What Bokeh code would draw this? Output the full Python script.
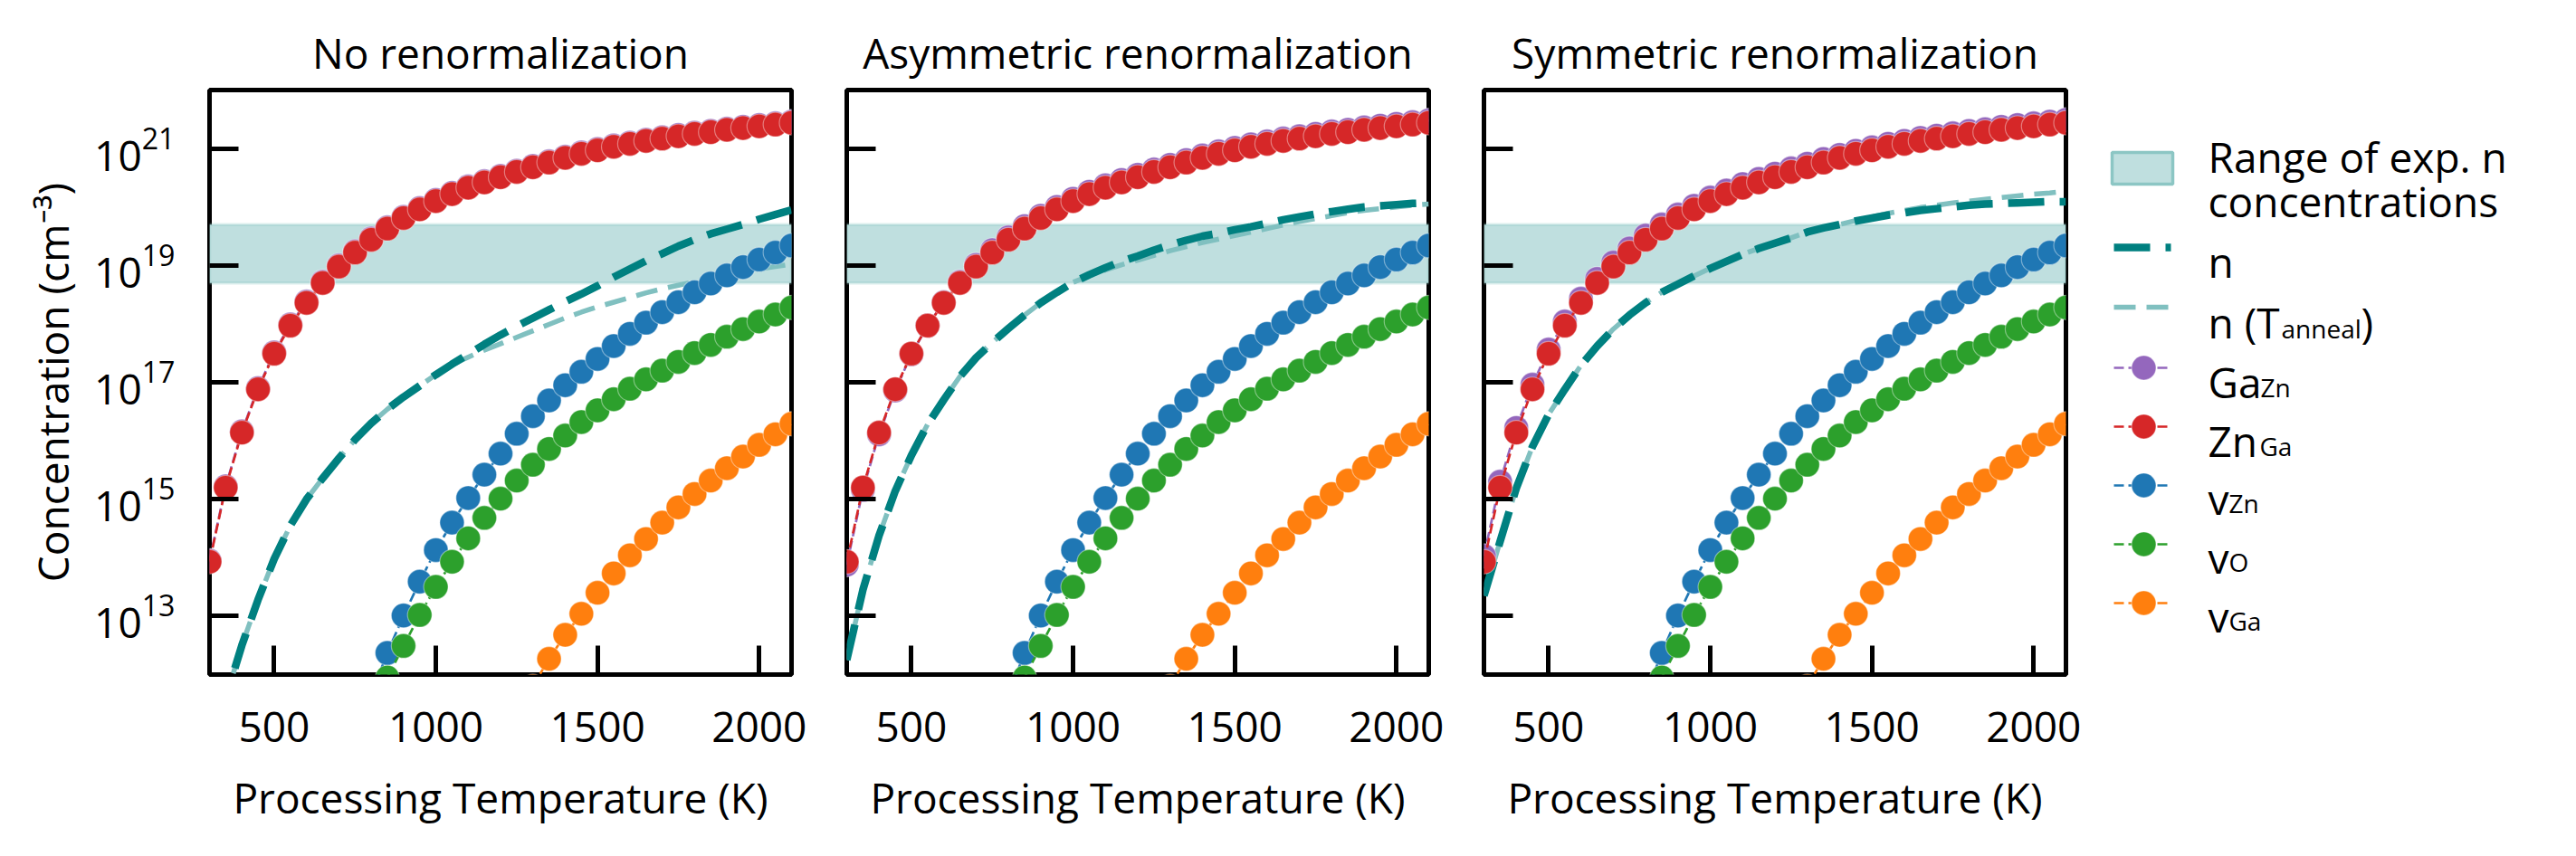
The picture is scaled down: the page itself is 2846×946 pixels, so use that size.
import numpy as np
from bokeh.plotting import figure
from bokeh.layouts import row
from bokeh.models import Range1d, FixedTicker, LogTickFormatter, BoxAnnotation
from bokeh.embed import file_html
from bokeh.resources import INLINE
from bokeh.core.properties import value

FONT = "Open Sans"

# ---------------- data (log10 of concentration, cm^-3) ----------------
T_all = [300, 350, 400, 450, 500, 550, 600, 650, 700, 750, 800, 850, 900, 950,
         1000, 1050, 1100, 1150, 1200, 1250, 1300, 1350, 1400, 1450, 1500, 1550,
         1600, 1650, 1700, 1750, 1800, 1850, 1900, 1950, 2000, 2050, 2100]
T_vac = [800, 850, 900, 950, 1000, 1050, 1100, 1150, 1200, 1250, 1300, 1350, 1400,
         1450, 1500, 1550, 1600, 1650, 1700, 1750, 1800, 1850, 1900, 1950, 2000, 2050, 2100]
T_vGa = [1300, 1350, 1400, 1450, 1500, 1550, 1600, 1650, 1700, 1750, 1800, 1850,
         1900, 1950, 2000, 2050, 2100]

titles = ["No renormalization", "Asymmetric renormalization", "Symmetric renormalization"]

log_ZnGa = [13.93, 15.20, 16.14, 16.88, 17.49, 17.97, 18.36, 18.70, 18.98, 19.22, 19.44, 19.63,
            19.81, 19.96, 20.10, 20.22, 20.33, 20.42, 20.51, 20.60, 20.68, 20.76, 20.84, 20.91,
            20.97, 21.03, 21.08, 21.13, 21.17, 21.21, 21.25, 21.28, 21.32, 21.35, 21.38, 21.41, 21.44]

log_GaZn_no = [13.95, 15.22, 16.16, 16.90, 17.51, 17.99, 18.38, 18.72, 19.00, 19.24, 19.46, 19.65,
               19.83, 19.98, 20.12, 20.24, 20.35, 20.44, 20.53, 20.62, 20.70, 20.78, 20.86, 20.93,
               20.99, 21.05, 21.10, 21.15, 21.19, 21.23, 21.27, 21.30, 21.34, 21.37, 21.40, 21.43, 21.46]
log_GaZn_asym = [13.88, 15.16, 16.11, 16.86, 17.48, 17.97, 18.37, 18.72, 19.01, 19.26, 19.48, 19.67,
                 19.85, 20.00, 20.14, 20.26, 20.37, 20.46, 20.55, 20.64, 20.72, 20.80, 20.88, 20.95,
                 21.01, 21.07, 21.12, 21.17, 21.21, 21.25, 21.29, 21.32, 21.36, 21.39, 21.42, 21.45, 21.48]
log_GaZn_sym = [14.03, 15.30, 16.22, 16.96, 17.56, 18.04, 18.43, 18.77, 19.05, 19.29, 19.51, 19.70,
                19.87, 20.02, 20.16, 20.28, 20.39, 20.48, 20.57, 20.66, 20.74, 20.82, 20.89, 20.96,
                21.02, 21.08, 21.13, 21.18, 21.22, 21.26, 21.30, 21.33, 21.37, 21.40, 21.43, 21.46, 21.49]

log_vZn = [11.65, 12.37, 13.01, 13.59, 14.13, 14.60, 15.02, 15.42, 15.78, 16.12, 16.42, 16.69, 16.95,
           17.18, 17.40, 17.62, 17.83, 18.02, 18.20, 18.37, 18.54, 18.69, 18.83, 18.97, 19.10, 19.22, 19.34]
log_vO = [11.30, 11.95, 12.49, 13.02, 13.50, 13.93, 14.33, 14.68, 15.01, 15.32, 15.59, 15.86, 16.09,
          16.32, 16.52, 16.71, 16.89, 17.05, 17.20, 17.35, 17.50, 17.64, 17.78, 17.91, 18.04, 18.16, 18.28]
log_vGa = [11.80, 12.27, 12.68, 13.04, 13.40, 13.73, 14.04, 14.32, 14.60, 14.86, 15.09, 15.32,
           15.53, 15.73, 15.93, 16.11, 16.29]

log_n_no = [10.4, 11.6, 12.5, 13.28, 13.98, 14.55, 15.00, 15.36, 15.70, 16.02, 16.30, 16.54,
            16.75, 16.94, 17.13, 17.31, 17.48, 17.65, 17.81, 17.96, 18.10, 18.24, 18.38, 18.51,
            18.65, 18.80, 18.94, 19.08, 19.20, 19.33, 19.44, 19.54, 19.62, 19.70, 19.79, 19.87, 19.95]
log_na_no = [10.4, 11.6, 12.5, 13.28, 13.98, 14.55, 15.00, 15.36, 15.70, 16.02, 16.30, 16.54,
             16.75, 16.94, 17.13, 17.30, 17.43, 17.55, 17.66, 17.77, 17.88, 17.99, 18.10, 18.20,
             18.29, 18.37, 18.45, 18.53, 18.60, 18.66, 18.72, 18.78, 18.84, 18.89, 18.94, 18.98, 19.02]

log_n_asym = [12.25, 13.45, 14.38, 15.14, 15.75, 16.28, 16.70, 17.10, 17.42, 17.68, 17.92, 18.15,
              18.36, 18.54, 18.71, 18.84, 18.96, 19.07, 19.16, 19.26, 19.35, 19.43, 19.50, 19.55,
              19.61, 19.66, 19.72, 19.78, 19.83, 19.88, 19.92, 19.96, 20.00, 20.02, 20.04, 20.06, 20.07]
log_na_asym = [12.25, 13.45, 14.38, 15.14, 15.75, 16.28, 16.70, 17.10, 17.42, 17.68, 17.92, 18.15,
               18.36, 18.54, 18.71, 18.82, 18.92, 19.01, 19.09, 19.17, 19.25, 19.32, 19.39, 19.45,
               19.51, 19.57, 19.63, 19.69, 19.75, 19.80, 19.85, 19.90, 19.94, 19.97, 20.00, 20.03, 20.05]

log_n_sym = [13.35, 14.28, 15.19, 15.90, 16.45, 16.88, 17.29, 17.62, 17.91, 18.15, 18.36, 18.54,
             18.68, 18.82, 18.95, 19.07, 19.19, 19.29, 19.38, 19.47, 19.57, 19.64, 19.70, 19.76,
             19.81, 19.86, 19.90, 19.94, 19.97, 20.00, 20.03, 20.05, 20.06, 20.07, 20.08, 20.09, 20.09]
log_na_sym = [13.35, 14.28, 15.19, 15.90, 16.45, 16.88, 17.29, 17.62, 17.91, 18.15, 18.36, 18.54,
              18.68, 18.82, 18.95, 19.07, 19.19, 19.29, 19.38, 19.47, 19.57, 19.64, 19.70, 19.77,
              19.83, 19.89, 19.94, 19.99, 20.03, 20.07, 20.10, 20.13, 20.16, 20.19, 20.22, 20.24, 20.27]

band_low, band_high = 5e18, 5e19
x_ticks = [500, 1000, 1500, 2000]
y_ticks = [1e13, 1e15, 1e17, 1e19, 1e21]

legend_main = ["Range of exp. n", "concentrations", "n", "n (T", ")", "Ga", "Zn", "v", "v", "v"]
legend_sub = ["anneal", "Zn", "Ga", "Zn", "O", "Ga"]

C_TEAL = "#008080"
C_TEAL_L = "#80c0c0"
C_BAND = "#bfdfdf"
C_BAND_E = "#8cc6c4"
C_GA = "#9467bd"
C_ZN = "#d62728"
C_VZN = "#1f77b4"
C_VO = "#2ca02c"
C_VGA = "#ff7f0e"

def c(v):
    return list(10.0 ** np.array(v))

FW, FH = 643, 646
TOP, BOTTOM = 99, 180

def make_panel(i, log_n, log_na, log_ga, left, right):
    p = figure(frame_width=FW, frame_height=FH, x_range=Range1d(300, 2100),
               y_range=Range1d(1e12, 1e22), y_axis_type="log",
               output_backend="svg", toolbar_location=None, title=titles[i],
               min_border_left=left, min_border_right=right,
               min_border_top=TOP, min_border_bottom=BOTTOM)
    p.title.text_font = FONT
    p.title.text_font_size = "46px"
    p.title.text_font_style = "normal"
    p.title.text_color = "black"
    p.title.align = "center"
    p.title.standoff = 21
    p.grid.visible = False
    p.outline_line_color = "black"
    p.outline_line_width = 5
    p.outline_line_alpha = 1.0
    p.background_fill_color = "white"

    p.add_layout(BoxAnnotation(bottom=band_low, top=band_high, fill_color=C_BAND, fill_alpha=1.0,
                               line_color=C_BAND_E, line_width=3.5, level="underlay"))

    p.line(T_all, c(log_na), line_color=C_TEAL_L, line_width=5.5, line_dash="24 12")
    p.line(T_all, c(log_n), line_color=C_TEAL, line_width=8.5, line_dash="40 17")

    for T, v, col in [(T_all, log_ga, C_GA), (T_all, log_ZnGa, C_ZN), (T_vac, log_vZn, C_VZN),
                      (T_vac, log_vO, C_VO), (T_vGa, log_vGa, C_VGA)]:
        p.line(T, c(v), line_color=col, line_width=2.7, line_dash="11 5")
        p.scatter(T, c(v), size=27, fill_color=col, line_color="white", line_alpha=0.4,
                  line_width=1.2)

    p.xaxis.ticker = FixedTicker(ticks=x_ticks, minor_ticks=[])
    p.yaxis.ticker = FixedTicker(ticks=y_ticks, minor_ticks=[])
    p.yaxis.formatter = LogTickFormatter()
    for ax in (p.xaxis[0], p.yaxis[0]):
        ax.axis_line_color = None
        ax.major_tick_in = 32
        ax.major_tick_out = 0
        ax.major_tick_line_width = 5
        ax.major_tick_line_color = "black"
        ax.minor_tick_in = 0
        ax.minor_tick_out = 0
        ax.major_label_text_font = FONT
        ax.major_label_text_font_size = "46px"
        ax.major_label_text_color = "black"
        ax.axis_label_text_font = FONT
        ax.axis_label_text_font_size = "46px"
        ax.axis_label_text_font_style = "normal"
        ax.axis_label_text_color = "black"
    p.xaxis.axis_label = "Processing Temperature (K)"
    p.xaxis.major_label_standoff = 41
    p.xaxis.axis_label_standoff = 27
    if i == 0:
        p.yaxis.axis_label = "Concentration (cm\u207b\u00b3)"
        p.yaxis.major_label_standoff = 38
        p.yaxis.axis_label_standoff = 12
    else:
        p.yaxis.major_label_text_font_size = "2px"
        p.yaxis.major_label_text_alpha = 0.0
        p.yaxis.major_label_standoff = 0
    return p

p1 = make_panel(0, log_n_no, log_na_no, log_GaZn_no, 231, 31)
p2 = make_panel(1, log_n_asym, log_na_asym, log_GaZn_asym, 30, 31)
p3 = make_panel(2, log_n_sym, log_na_sym, log_GaZn_sym, 30, 20)

# ---------------- legend (drawn in page-pixel coordinates) ----------------
# the row aligns this figure's frame with the panels' frames (page y 107..753)
LX0, LW = 2310, 528
leg = figure(frame_width=LW, frame_height=FH, x_range=Range1d(LX0, LX0 + LW),
             y_range=Range1d(107 + FH, 107), min_border_left=0, min_border_right=0,
             min_border_top=TOP, min_border_bottom=BOTTOM, toolbar_location=None,
             output_backend="svg", x_axis_location=None, y_axis_location=None)
leg.outline_line_color = None
leg.grid.visible = False

hx0, hx1, mx = 2343, 2406, 2376
leg.quad(left=[2341], right=[2408], top=[176], bottom=[211], fill_color=C_BAND,
         line_color=C_BAND_E, line_width=3.5)
leg.line([hx0, hx1], [281, 281], line_color=C_TEAL, line_width=8.5, line_dash="40 17")
leg.line([hx0, hx1], [347, 347], line_color=C_TEAL_L, line_width=5.5, line_dash="24 12")
ys = [414, 479, 544, 609, 674]
for y, col in zip(ys, [C_GA, C_ZN, C_VZN, C_VO, C_VGA]):
    leg.line([hx0, hx1], [y, y], line_color=col, line_width=2.7, line_dash="11 5")
    leg.scatter([mx], [y], size=27, fill_color=col, line_color="white", line_alpha=0.4,
                line_width=1.2)

tx = 2447
main_x = [tx, tx, tx, tx, 2616, tx, tx, tx, tx, tx]
main_y = [180, 229, 296, 363, 363, 429, 494, 558, 623, 688]
leg.text(main_x, main_y, text=legend_main, text_font=value(FONT), text_font_size="46px",
         text_baseline="alphabetic", text_align="left", text_color="black")
sub_x = [2528, 2505, 2504, 2470, 2470, 2470]
sub_y = [370, 435, 500, 563, 628, 693]
leg.text(sub_x, sub_y, text=legend_sub, text_font=value(FONT), text_font_size="28px",
         text_baseline="alphabetic", text_align="left", text_color="black")

layout = row(p1, p2, p3, leg)
open("out.html", "w").write(file_html(layout, INLINE))
